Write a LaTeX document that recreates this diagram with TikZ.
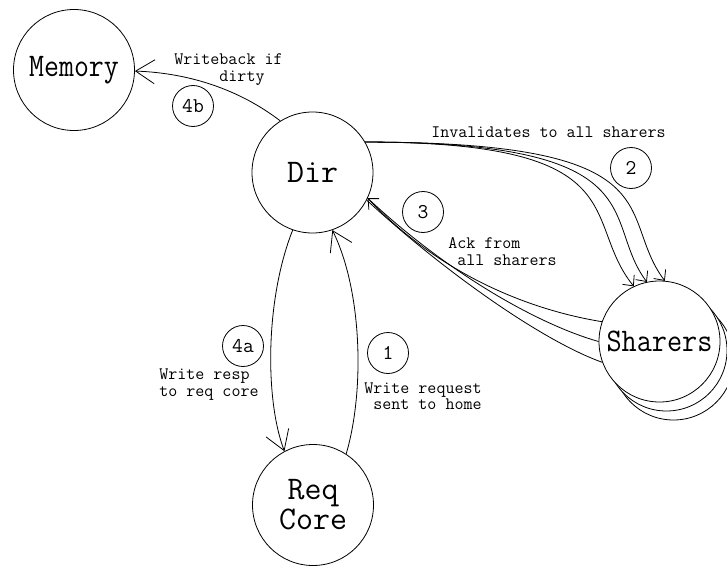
\documentclass[tikz,border=0pt]{standalone}
\usepackage{graphicx}
\usetikzlibrary{arrows.meta}
\begin{document}
\begin{tikzpicture}[x=1pt,y=-1pt,line width=0.8pt,
  big/.style={circle,draw,fill=white,minimum size=121pt,inner sep=0pt,align=center,
    font=\fontsize{33}{30}\ttfamily},
  num/.style={circle,draw,minimum size=41pt,inner sep=0pt,font=\fontsize{21}{21}\ttfamily},
  lbl/.style={anchor=west,inner sep=0pt,align=left,font=\fontsize{17.5}{16.5}\ttfamily},
  bigarr/.style={-{Straight Barb[length=19pt,width=24pt]}},
  smallarr/.style={-{Straight Barb[length=8pt,width=15pt]}}]
\fill[white] (0,0) rectangle (727,567);
\useasboundingbox (0,0) rectangle (727,567);

% main nodes
\node[big] (mem) at (74,70) {\scalebox{0.88}[1]{Memory}};
\node[big] (dir) at (312.5,172.5) {Dir};
\node[big] (rc) at (313,505) {Req\\Core};
\node[big] (sh3) at (673.5,359.5) {};
\node[big] (sh2) at (666.5,350.5) {};
\node[big] (sh) at (659.5,341.5) {\scalebox{0.89}[1]{Sharers}};

% step numbers
\node[num] (n4b) at (193,106) {4b};
\node[num] (n2) at (631,168) {2};
\node[num] (n3) at (423,212) {3};
\node[num] (n1) at (388,353) {1};
\node[num] (n4a) at (243,346) {4a};

% labels
\node[lbl] (lwb) at (174,69.5) {Writeback if\\\phantom{xxxxx}dirty};
\node[lbl] (linv) at (431,132) {Invalidates to all sharers};
\node[lbl] (lack) at (448,251.5) {Ack from\\\phantom{x}all sharers};
\node[lbl] (lreq) at (364,396) {Write request\\\phantom{x}sent to home};
\node[lbl] (lresp) at (159,384.5) {Write resp\\to req core};

% connectors
\draw[bigarr] (dir.122) .. controls (240,90) and (190,73) .. (mem.-1);
\draw[bigarr] (dir.251) .. controls (265,300) and (265,400) .. (rc.118);
\draw[bigarr] (rc.57) .. controls (365,390) and (362,290) .. (dir.-71);

\draw[smallarr] (dir.30) .. controls (640,142) and (580,220) .. (sh.115);
\draw[smallarr] (dir.30) .. controls (660,142) and (600,220) .. (sh.102);
\draw[smallarr] (dir.30) .. controls (680,142) and (615,215) .. (sh.85);

\draw (sh.161) .. controls (530,310) and (440,275) .. (dir.-25);
\draw[smallarr] (sh.180) .. controls (540,325) and (450,275) .. (dir.-25);
\draw (sh.200) .. controls (540,340) and (440,268) .. (dir.-27);
\end{tikzpicture}
\end{document}
